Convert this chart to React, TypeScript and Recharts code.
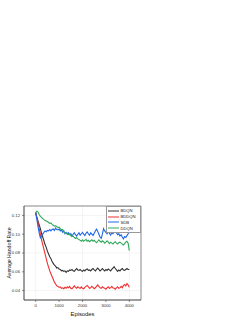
import React from "react";
import {
  LineChart,
  Line,
  XAxis,
  YAxis,
  CartesianGrid,
  Legend,
  ReferenceArea,
} from "recharts";

// episodes sampled every 50
const episodes = Array.from({ length: 81 }, (_, i) => i * 50);

const bdqn = [
  0.123, 0.118, 0.114, 0.11, 0.106, 0.101, 0.097, 0.093, 0.089, 0.086, 0.082,
  0.079, 0.076, 0.074, 0.071, 0.069, 0.067, 0.066, 0.064, 0.0645, 0.063,
  0.0625, 0.061, 0.0615, 0.0605, 0.061, 0.0595, 0.061, 0.0605, 0.062, 0.0615,
  0.0625, 0.061, 0.0605, 0.062, 0.0635, 0.062, 0.0615, 0.0625, 0.061, 0.0605,
  0.062, 0.061, 0.0625, 0.063, 0.0615, 0.062, 0.061, 0.0625, 0.0635, 0.062,
  0.061, 0.0625, 0.064, 0.0625, 0.061, 0.062, 0.0635, 0.062, 0.061, 0.0625,
  0.0615, 0.063, 0.062, 0.061, 0.0625, 0.064, 0.0655, 0.0635, 0.062, 0.0605,
  0.062, 0.061, 0.0625, 0.0635, 0.062, 0.0615, 0.0625, 0.0635, 0.0625, 0.0625,
];

const bddqn = [
  0.123, 0.117, 0.112, 0.106, 0.1, 0.094, 0.089, 0.084, 0.079, 0.074, 0.069,
  0.065, 0.061, 0.058, 0.055, 0.052, 0.049, 0.047, 0.045, 0.0445, 0.0435,
  0.044, 0.0425, 0.043, 0.042, 0.0435, 0.0425, 0.044, 0.043, 0.0445, 0.0425,
  0.042, 0.0435, 0.045, 0.0435, 0.0425, 0.044, 0.043, 0.0425, 0.044, 0.0425,
  0.042, 0.0435, 0.0445, 0.0455, 0.044, 0.0425, 0.043, 0.0445, 0.0435, 0.042,
  0.043, 0.0445, 0.046, 0.0445, 0.043, 0.0425, 0.044, 0.043, 0.0425, 0.0415,
  0.043, 0.044, 0.0425, 0.043, 0.0445, 0.043, 0.0425, 0.0415, 0.043, 0.044,
  0.0425, 0.043, 0.0445, 0.043, 0.0455, 0.0465, 0.045, 0.0475, 0.046, 0.0435,
];

const sdb = [
  0.123, 0.116, 0.108, 0.101, 0.096, 0.098, 0.1, 0.102, 0.1035, 0.1025, 0.104,
  0.1035, 0.105, 0.1035, 0.105, 0.1055, 0.104, 0.1065, 0.105, 0.1045, 0.1055,
  0.1035, 0.1045, 0.102, 0.1035, 0.1005, 0.102, 0.1, 0.1015, 0.0995, 0.1005,
  0.098, 0.1, 0.1015, 0.0995, 0.098, 0.1, 0.1015, 0.099, 0.1005, 0.102, 0.1,
  0.0985, 0.101, 0.1025, 0.1005, 0.099, 0.1015, 0.1, 0.0985, 0.101, 0.1035,
  0.1055, 0.103, 0.1, 0.097, 0.0955, 0.1, 0.106, 0.1035, 0.102, 0.1005, 0.1025,
  0.101, 0.099, 0.1015, 0.1005, 0.1025, 0.1035, 0.1015, 0.0995, 0.1005, 0.098,
  0.0995, 0.097, 0.095, 0.0975, 0.0965, 0.0985, 0.1005, 0.1025,
];

const ddqn = [
  0.123, 0.1245, 0.1235, 0.121, 0.119, 0.118, 0.1165, 0.1155, 0.1145, 0.114,
  0.1135, 0.1125, 0.1115, 0.112, 0.1105, 0.1095, 0.1085, 0.109, 0.108, 0.107,
  0.1075, 0.106, 0.1045, 0.105, 0.1025, 0.1015, 0.1005, 0.101, 0.0995, 0.1,
  0.0985, 0.0975, 0.098, 0.0965, 0.0955, 0.0965, 0.095, 0.0945, 0.0935, 0.0925,
  0.094, 0.0925, 0.0935, 0.0945, 0.0925, 0.0935, 0.092, 0.093, 0.094, 0.0925,
  0.0935, 0.092, 0.091, 0.0925, 0.094, 0.0925, 0.0915, 0.093, 0.092, 0.0905,
  0.0915, 0.093, 0.0915, 0.09, 0.0915, 0.0905, 0.0895, 0.091, 0.092, 0.0905,
  0.0895, 0.091, 0.0915, 0.0905, 0.0895, 0.0885, 0.09, 0.0915, 0.0925, 0.0905,
  0.0825,
];

const xTicks = [0, 1000, 2000, 3000, 4000];
const yTicks = [0.04, 0.06, 0.08, 0.1, 0.12];

const series = [
  { key: "BDQN", color: "#333333" },
  { key: "BDDQN", color: "#ee3030" },
  { key: "SDB", color: "#1f66e5" },
  { key: "DDQN", color: "#2fa85c" },
];

const data = episodes.map((ep, i) => ({
  ep,
  BDQN: bdqn[i],
  BDDQN: bddqn[i],
  SDB: sdb[i],
  DDQN: ddqn[i],
}));

const font = "'Liberation Sans', Arial, sans-serif";

function LegendBox() {
  return (
    <div
      style={{
        border: "0.6px solid #999",
        background: "#fff",
        padding: "1px",
        fontFamily: font,
        fontSize: 4.2,
        color: "#222",
      }}
    >
      {series.map((s) => (
        <div
          key={s.key}
          style={{ display: "flex", alignItems: "center", height: 5.8 }}
        >
          <svg width={11} height={4} style={{ marginRight: 1.5 }}>
            <line x1={0} y1={2} x2={11} y2={2} stroke={s.color} strokeWidth={1} />
          </svg>
          <span>{s.key}</span>
        </div>
      ))}
    </div>
  );
}

// y axis title, centred on the plot's height
const YTitle = (props: any) => {
  const vb = props.viewBox || {};
  const cx = 9;
  const cy = (vb.y ?? 206) + (vb.height ?? 94) / 2;
  return (
    <text
      x={cx}
      y={cy}
      transform={`rotate(-90 ${cx} ${cy})`}
      textAnchor="middle"
      dominantBaseline="central"
      fontSize={5.2}
      fill="#111"
      fontFamily={font}
    >
      Average Handoff Rate
    </text>
  );
};

export default function App() {
  return (
    <div
      style={{
        position: "absolute",
        left: 0,
        top: 0,
        width: 249,
        height: 323,
        background: "#fff",
      }}
    >
      <LineChart
        width={249}
        height={323}
        data={data}
        margin={{ top: 206, right: 108, bottom: 0, left: 0 }}
      >
        <CartesianGrid stroke="#e8e8e8" strokeWidth={0.5} />
        <XAxis
          dataKey="ep"
          type="number"
          domain={[-500, 4500]}
          ticks={xTicks}
          allowDataOverflow
          height={23}
          stroke="#444"
          strokeWidth={0.6}
          tickSize={2}
          tick={{ fontSize: 4.2, fill: "#333", fontFamily: font }}
          label={{
            value: "Episodes",
            position: "insideBottom",
            offset: 7,
            style: { fontSize: 5.8, fill: "#111", fontFamily: font },
          }}
        />
        <YAxis
          type="number"
          domain={[0.03, 0.13]}
          ticks={yTicks}
          allowDataOverflow
          width={24}
          stroke="#444"
          strokeWidth={0.6}
          tickSize={2}
          tickFormatter={(v: number) => v.toFixed(2)}
          tick={{ fontSize: 4.2, fill: "#333", fontFamily: font }}
          label={<YTitle />}
        />
        <ReferenceArea
          x1={-500}
          x2={4500}
          y1={0.03}
          y2={0.13}
          fill="none"
          stroke="#444"
          strokeWidth={0.6}
          ifOverflow="visible"
        />
        {series.map((s) => (
          <Line
            key={s.key}
            type="linear"
            dataKey={s.key}
            stroke={s.color}
            strokeWidth={1.1}
            dot={false}
            isAnimationActive={false}
          />
        ))}
        <Legend
          layout="vertical"
          align="center"
          verticalAlign="middle"
          content={() => <LegendBox />}
          wrapperStyle={{ position: "absolute", top: 206, left: 106, width: 35, right: "auto", bottom: "auto" }}
        />
      </LineChart>
    </div>
  );
}
